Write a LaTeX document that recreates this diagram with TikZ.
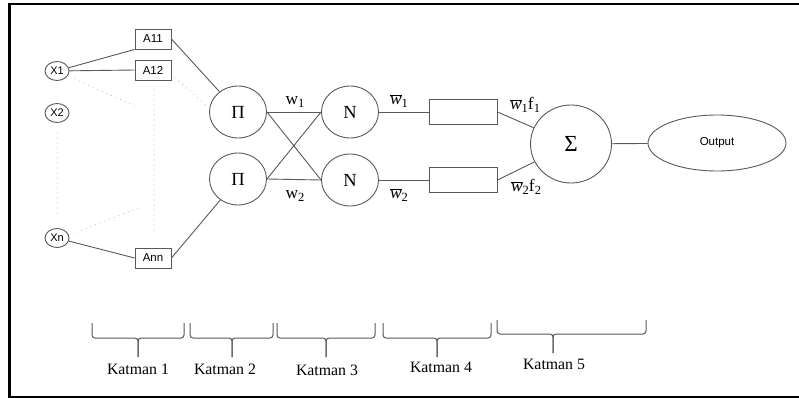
\documentclass[tikz,border=0pt]{standalone}
\usepackage{fontspec}
\setmainfont{Liberation Serif}
\setsansfont{Liberation Sans}
\usetikzlibrary{shapes.geometric}

% normalized firing strength symbol: italic w with a bar
\newcommand\wb{\ensuremath{\overline{\mbox{\itshape w}}}}
% lowered index in a larger size than \textsubscript
\newcommand\idx[1]{\raisebox{-0.3ex}{\fontsize{12.5}{13}\selectfont #1}}

% layer brace: x-left, x-right, x-tip, y-ends, y-bar, y-tip
\newcommand\katbrace[6]{%
  \draw[brc] (#1,#4) -- (#1,#5) -- (#3,#5) -- (#3,#6);
  \draw[brc] (#2,#4) -- (#2,#5) -- (#3,#5) -- (#3,#6);
}

\begin{document}
\begin{tikzpicture}[x=1pt,y=-1pt,
  conn/.style={draw=black!65, line width=0.9pt},
  dots/.style={draw=black!35, line width=1pt, dash pattern=on 0pt off 5pt, line cap=round},
  brc/.style={draw=black!65, line width=1pt, rounded corners=3pt},
  inp/.style={ellipse, draw=black!65, line width=0.9pt, minimum width=24pt, minimum height=19pt,
    inner sep=0pt, font=\sffamily\fontsize{11}{12}\selectfont},
  abox/.style={rectangle, draw=black!65, line width=0.9pt, minimum width=36pt, minimum height=20pt,
    inner sep=0pt, font=\sffamily\fontsize{11.5}{12}\selectfont},
  op/.style={ellipse, draw=black!65, line width=0.9pt, minimum width=57pt, minimum height=52pt,
    inner sep=0pt, font=\fontsize{18.5}{20}\selectfont},
  fnbox/.style={rectangle, draw=black!65, line width=0.9pt, minimum width=68pt, minimum height=25pt, inner sep=0pt},
  sig/.style={ellipse, draw=black!65, line width=0.9pt, minimum width=81pt, minimum height=78pt,
    inner sep=0pt, font=\fontsize{23}{24}\selectfont},
  outp/.style={ellipse, draw=black!65, line width=0.9pt, minimum width=138pt, minimum height=56pt,
    inner sep=0pt, font=\sffamily\fontsize{11.5}{12}\selectfont},
  lbl/.style={inner sep=0pt, font=\fontsize{17.5}{18}\selectfont},
  kat/.style={inner sep=0pt, anchor=base, font=\fontsize{15.8}{18}\selectfont}]

\clip (0,0) rectangle (799,398);
\fill[white] (0,0) rectangle (799,398);

% frame
\draw[line width=2.6pt] (810,4) -- (9.6,4) -- (9.6,397) -- (810,397);

% inputs and membership functions
\node[inp] (x1) at (57,71) {X1};
\node[inp] (x2) at (57,113) {X2};
\node[inp] (xn) at (57,238) {Xn};
\node[abox] (a11) at (153,39) {A11};
\node[abox] (a12) at (153,70) {A12};
\node[abox] (ann) at (153,258) {Ann};

% rule, normalization, consequent, summation, output
\node[op] (p1) at (238,112) {Π};
\node[op] (p2) at (238,179) {Π};
\node[op] (n1) at (350,112) {N};
\node[op] (n2) at (350,180) {N};
\node[fnbox] (f1) at (463,112) {};
\node[fnbox] (f2) at (463,180) {};
\node[sig] (s) at (571,144) {Σ};
\node[outp] (o) at (717,143) {Output};

% solid connections
\draw[conn] (x1) -- (a11.south west);
\draw[conn] (x1) -- (a12.west);
\draw[conn] (xn) -- (ann.west);
\draw[conn] (a11.east) -- (p1);
\draw[conn] (ann.east) -- (p2);
\draw[conn] (p1.east) -- (n1.west);
\draw[conn] (p1.east) -- (n2.west);
\draw[conn] (p2.east) -- (n1.west);
\draw[conn] (p2.east) -- (n2.west);
\draw[conn] (n1.east) -- (f1.west);
\draw[conn] (n2.east) -- (f2.west);
\draw[conn] (f1.east) -- (s);
\draw[conn] (f2.east) -- (s);
\draw[conn] (s) -- (o);

% dotted hints at omitted connections
\coordinate (dx1a) at (75,79);   \coordinate (dx1b) at (137,107);
\coordinate (dmfa) at (175,78);  \coordinate (dmfb) at (208,107);
\coordinate (dcla) at (154,90);  \coordinate (dclb) at (154,232);
\coordinate (dx2a) at (57,133);  \coordinate (dx2b) at (57,216);
\coordinate (dxna) at (77,232);  \coordinate (dxnb) at (138,208);
\draw[dots] (dx1a) -- (dx1b);
\draw[dots] (dmfa) -- (dmfb);
\draw[dots] (dcla) -- (dclb);
\draw[dots] (dx2a) -- (dx2b);
\draw[dots] (dxna) -- (dxnb);

% signal labels
\node[lbl] (w1) at (295,102) {w\idx{1}};
\node[lbl] (w2) at (295,196) {w\idx{2}};
\node[lbl] (wb1) at (399,101) {\wb\idx{1}};
\node[lbl] (wb2) at (399,195) {\wb\idx{2}};
\node[lbl] (wf1) at (525,105) {\wb\idx{1}f\idx{1}};
\node[lbl] (wf2) at (526,187) {\wb\idx{2}f\idx{2}};

% layer braces
\katbrace{92}{184}{138}{323}{338}{357}
\katbrace{190}{273}{232}{323}{338}{357}
\katbrace{277}{375}{326}{323}{338}{357}
\katbrace{383}{491}{437}{323}{338}{357}
\katbrace{497}{646}{553}{320}{334}{353}

\node[kat] (k1) at (138,374) {Katman 1};
\node[kat] (k2) at (225,374) {Katman 2};
\node[kat] (k3) at (327,375) {Katman 3};
\node[kat] (k4) at (441,372) {Katman 4};
\node[kat] (k5) at (554,369) {Katman 5};
\end{tikzpicture}
\end{document}
